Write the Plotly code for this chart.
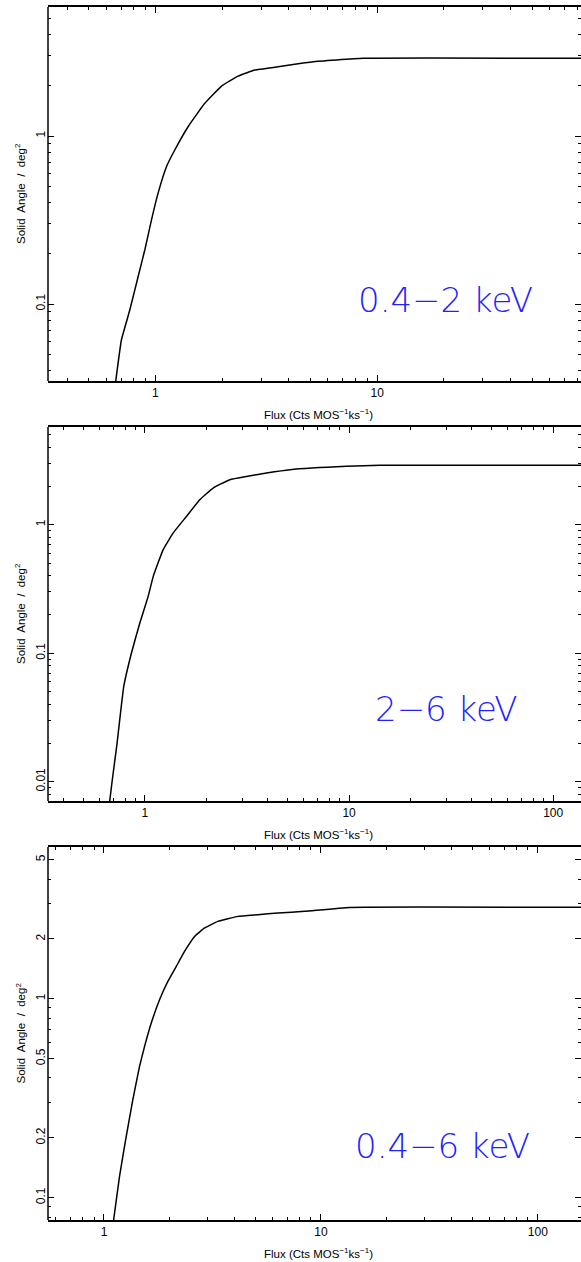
import plotly.graph_objects as go
import math

# ---------------- data ----------------
flux_soft = [0.662, 0.702, 0.766, 0.835, 0.895, 0.959, 1.027, 1.121, 1.222, 1.403,
             1.669, 1.986, 2.359, 2.806, 3.574, 4.72, 5.14, 8.65, 100]
area_soft = [0.0348, 0.0611, 0.0921, 0.1454, 0.2097, 0.316, 0.456, 0.657, 0.826, 1.136,
             1.565, 1.984, 2.275, 2.47, 2.585, 2.73, 2.77, 2.90, 2.90]

flux_hard = [0.672, 0.690, 0.730, 0.787, 0.858, 0.943, 1.036, 1.10, 1.227, 1.374,
             1.597, 1.856, 2.158, 2.604, 3.144, 3.940, 5.126, 9.72, 14.2, 200]
area_hard = [0.00706, 0.0100, 0.0199, 0.0550, 0.100, 0.1714, 0.276, 0.400, 0.638, 0.862,
             1.161, 1.566, 1.932, 2.243, 2.380, 2.529, 2.684, 2.85, 2.90, 2.90]

flux_full = [1.106, 1.179, 1.266, 1.358, 1.458, 1.538, 1.652, 1.804, 1.970, 2.154,
             2.352, 2.617, 2.910, 3.351, 4.144, 5.126, 6.34, 8.42, 13.6, 200]
area_full = [0.0763, 0.1276, 0.2028, 0.310, 0.456, 0.575, 0.755, 0.988, 1.222, 1.454,
             1.730, 2.058, 2.270, 2.449, 2.596, 2.647, 2.70, 2.751, 2.88, 2.88]

band_labels = ["0.4\u22122 keV", "2\u22126 keV", "0.4\u22126 keV"]

x_tickvals = [[1, 10], [1, 10, 100], [1, 10, 100]]
x_ticktext = [["1", "10"], ["1", "10", "100"], ["1", "10", "100"]]
y_tickvals = [[0.1, 1], [0.01, 0.1, 1], [0.1, 0.2, 0.5, 1, 2, 5]]
y_ticktext = [["0.1", "1"], ["0.01", "0.1", "1"], ["0.1", "0.2", "0.5", "1", "2", "5"]]

x_ranges = [[-0.4847, 1.9193], [-0.475, 2.1363], [-0.258, 2.199]]
y_ranges = [[-1.458, 0.768], [-2.150, 0.761], [-1.112, 0.763]]

# ---------------- layout geometry ----------------
W, H = 581, 1262
ML, MR, MT, MB = 48, 0, 7, 42
plot_h = H - MT - MB
panels_px = [(7, 381), (427, 801), (847, 1220)]  # top, bottom in pixels


def py_to_paper(py):
    return (H - MB - py) / plot_h


def px_to_paper(px):
    return (px - ML) / (W - ML - MR)


def minor_vals(lo_exp, hi_exp, major):
    vals = []
    for k in range(int(math.floor(lo_exp)) - 1, int(math.ceil(hi_exp)) + 1):
        for d in range(1, 10):
            v = d * 10 ** k
            if lo_exp <= math.log10(v) <= hi_exp and not any(abs(v - m) / m < 1e-9 for m in major):
                vals.append(v)
    return vals


font_axis = dict(family="Liberation Sans, Arial, sans-serif", size=12, color="black")
font_title = dict(family="Liberation Sans, Arial, sans-serif", size=11.5, color="black")

fig = go.Figure()
series = [(flux_soft, area_soft), (flux_hard, area_hard), (flux_full, area_full)]
for i, (fx, fy) in enumerate(series):
    sfx = "" if i == 0 else str(i + 1)
    fig.add_trace(go.Scatter(x=fx, y=fy, mode="lines",
                             line=dict(color="black", width=1.5, shape="spline", smoothing=0.35),
                             xaxis="x" + sfx, yaxis="y" + sfx, showlegend=False,
                             hoverinfo="skip"))

layout = dict(width=W, height=H, margin=dict(l=ML, r=MR, t=MT, b=MB),
              paper_bgcolor="white", plot_bgcolor="white", showlegend=False)

annotations = []
shapes = []
for i in range(3):
    sfx = "" if i == 0 else str(i + 1)
    top, bot = panels_px[i]
    dom = [py_to_paper(bot), py_to_paper(top)]
    layout["xaxis" + sfx] = dict(
        type="log", range=x_ranges[i], domain=[0, 1], anchor="y" + sfx,
        showline=True, linecolor="black", linewidth=1.5, mirror="ticks",
        ticks="inside", ticklen=6, tickwidth=1, tickcolor="black",
        tickvals=x_tickvals[i], ticktext=x_ticktext[i], tickfont=font_axis,
        showgrid=False, zeroline=False,
        minor=dict(tickvals=minor_vals(x_ranges[i][0], x_ranges[i][1], x_tickvals[i]),
                   ticks="inside", ticklen=3, tickwidth=1, tickcolor="black", showgrid=False),
    )
    # y axis: ticks mirrored on the right edge, but no right frame line (it lies off-picture)
    layout["yaxis" + sfx] = dict(
        type="log", range=y_ranges[i], domain=dom, anchor="x" + sfx,
        showline=False, mirror="ticks",
        ticks="inside", ticklen=6, tickwidth=1, tickcolor="black",
        tickvals=y_tickvals[i], ticktext=y_ticktext[i], tickfont=font_axis,
        tickangle=-90, showgrid=False, zeroline=False,
        minor=dict(tickvals=minor_vals(y_ranges[i][0], y_ranges[i][1], y_tickvals[i]),
                   ticks="inside", ticklen=3, tickwidth=1, tickcolor="black", showgrid=False),
    )
    # left frame line
    shapes.append(dict(type="line", xref="x" + sfx + " domain", yref="y" + sfx + " domain",
                       x0=0, x1=0, y0=0, y1=1, line=dict(color="black", width=1.5), layer="above"))
    # x title
    annotations.append(dict(text="Flux (Cts MOS<sup>\u22121</sup>ks<sup>\u22121</sup>)",
                            xref="paper", yref="paper", x=px_to_paper(318), y=py_to_paper(bot + 33),
                            xanchor="center", yanchor="middle", showarrow=False, font=font_title))
    # y title
    annotations.append(dict(text="Solid\u00a0 Angle\u00a0 /\u00a0 deg<sup>2</sup>",
                            xref="paper", yref="paper", x=px_to_paper(20), y=py_to_paper((top + bot) / 2),
                            xanchor="center", yanchor="middle", showarrow=False, textangle=-90,
                            font=font_title))

band_pos = [(445, 300), (446, 709), (442, 1146)]
for i, lab in enumerate(band_labels):
    bx, by = band_pos[i]
    annotations.append(dict(text=lab, xref="paper", yref="paper",
                            x=px_to_paper(bx), y=py_to_paper(by),
                            xanchor="center", yanchor="middle", showarrow=False,
                            font=dict(family="DejaVu Sans, sans-serif", size=34, color="#1f1fff", weight=300)))

layout["annotations"] = annotations
layout["shapes"] = shapes
fig.update_layout(**layout)
fig.write_html("out.html", config={"displayModeBar": False},
               post_script="document.body.style.margin='0';document.body.style.padding='0';")
